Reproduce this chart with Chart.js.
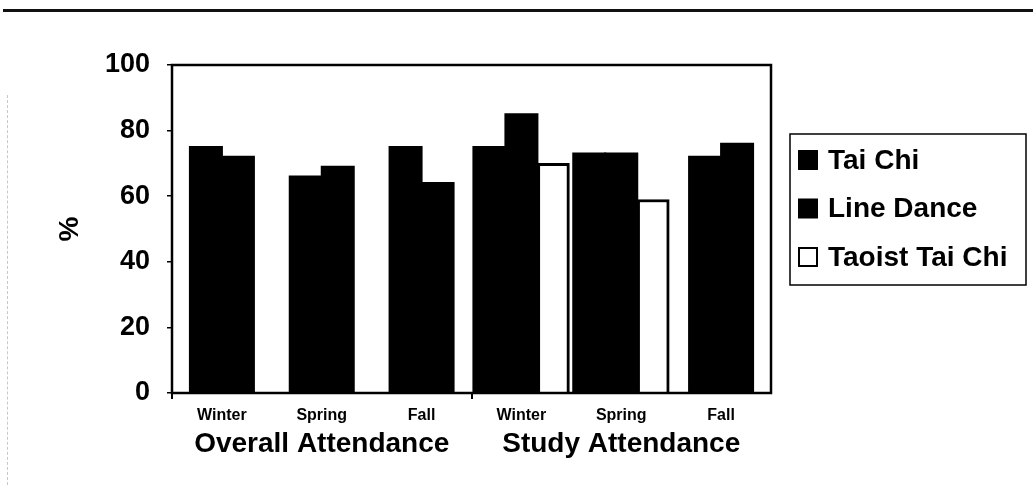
<!DOCTYPE html>
<html>
<head>
<meta charset="utf-8">
<title>Attendance by season</title>
<script src="https://cdn.jsdelivr.net/npm/chart.js@4.4.1/dist/chart.umd.min.js"></script>
<style>
  html, body { margin: 0; padding: 0; background: #fff; }
  #wrap { position: relative; width: 1033px; height: 485px; overflow: hidden; }
  #wrap canvas { position: absolute; left: 0; top: 0; }
  #rule { position: absolute; left: 3px; right: 0; top: 9px; height: 3px; background: #111; }
  #edge { position: absolute; left: 7px; top: 95px; bottom: 0; border-left: 1px dashed #c8c8c8; }
</style>
</head>
<body>
<div id="wrap">
  <canvas id="chart" width="1033" height="485"></canvas>
  <div id="rule"></div>
  <div id="edge"></div>
</div>
<script>
// Season categories and the two attendance groups beneath them
const seasons = ['Winter', 'Spring', 'Fall', 'Winter', 'Spring', 'Fall'];
const groups = ['Overall Attendance', 'Study Attendance'];

// Attendance (%) per programme
const taiChi       = [75, 66, 75, 75, 73, 72];
const lineDance    = [72, 69, 64, 85, 73, 76];
const taoistTaiChi = [null, null, null, 70, 59, null];

// Value axis
const yMin = 0;
const yMax = 100;
const yStep = 20;

const FONT = "'Liberation Sans', Arial, Helvetica, sans-serif";
Chart.defaults.font.family = FONT;
Chart.defaults.font.weight = 'bold';
Chart.defaults.color = '#000';

// Closed box around the plotting area
const framePlugin = {
  id: 'frame',
  afterDatasetsDraw(chart) {
    const { ctx, chartArea: a } = chart;
    ctx.save();
    ctx.strokeStyle = '#000';
    ctx.lineWidth = 2.5;
    ctx.strokeRect(a.left, a.top, a.right - a.left, a.bottom - a.top);
    ctx.restore();
  }
};

// Boxed legend to the right of the plot, built from the datasets
const boxLegend = {
  id: 'boxLegend',
  afterDraw(chart, args, o) {
    const { ctx, chartArea: a } = chart;
    const left = a.right + o.offsetX;
    const top = a.top + o.offsetY;
    ctx.save();
    ctx.lineWidth = 1.5;
    ctx.strokeStyle = '#000';
    ctx.strokeRect(left, top, o.width, o.height);
    ctx.font = `bold ${o.fontSize}px ${FONT}`;
    ctx.textBaseline = 'middle';
    ctx.textAlign = 'left';
    chart.data.datasets.forEach((ds, i) => {
      const cy = top + o.firstRow + i * o.rowGap;
      const bx = left + o.markerX;
      const by = cy - o.marker / 2;
      ctx.fillStyle = ds.backgroundColor;
      ctx.fillRect(bx, by, o.marker, o.marker);
      if (ds.borderWidth) {
        ctx.lineWidth = 2;
        ctx.strokeStyle = ds.borderColor;
        ctx.strokeRect(bx + 1, by + 1, o.marker - 2, o.marker - 2);
      }
      ctx.fillStyle = '#000';
      ctx.fillText(ds.label, bx + o.marker + o.textGap, cy + 1);
    });
    ctx.restore();
  }
};

new Chart(document.getElementById('chart'), {
  type: 'bar',
  data: {
    labels: seasons,
    datasets: [
      { label: 'Tai Chi', data: taiChi, backgroundColor: '#000', borderWidth: 0, inflateAmount: 1 },
      { label: 'Line Dance', data: lineDance, backgroundColor: '#000', borderWidth: 0, inflateAmount: 1 },
      { label: 'Taoist Tai Chi', data: taoistTaiChi, backgroundColor: '#fff', borderColor: '#000', borderWidth: 3 }
    ]
  },
  plugins: [framePlugin, boxLegend],
  options: {
    responsive: false,
    animation: false,
    devicePixelRatio: 1,
    layout: { padding: { left: 40, right: 262, top: 65, bottom: 18 } },
    datasets: { bar: { barThickness: 32, skipNull: true } },
    plugins: {
      legend: { display: false },
      tooltip: { enabled: false },
      boxLegend: {
        offsetX: 19, offsetY: 69, width: 236, height: 151,
        firstRow: 26, rowGap: 48.5, markerX: 8, marker: 20, textGap: 10, fontSize: 28
      }
    },
    scales: {
      x: {
        type: 'category',
        offset: true,
        weight: 0,
        grid: {
          display: true,
          drawOnChartArea: false,
          offset: true,
          tickLength: 6,
          lineWidth: 2,
          color: (c) => (c.index % 3 === 0 ? '#000' : 'rgba(0,0,0,0)')
        },
        border: { display: false },
        ticks: { font: { size: 16, weight: 'bold' }, padding: 7, maxRotation: 0, autoSkip: false, color: '#000' },
        afterFit: (s) => { s.height = 34; }
      },
      x2: {
        type: 'category',
        labels: groups,
        position: 'bottom',
        offset: true,
        weight: 1,
        grid: { display: false, drawTicks: false },
        border: { display: false },
        ticks: { font: { size: 28, weight: 'bold' }, padding: 0, maxRotation: 0, autoSkip: false, color: '#000' },
        afterFit: (s) => { s.height = 40; }
      },
      y: {
        min: yMin,
        max: yMax,
        ticks: { stepSize: yStep, font: { size: 27, weight: 'bold' }, padding: 17, color: '#000' },
        grid: { drawOnChartArea: false, tickLength: 5, color: '#000', lineWidth: 1.5 },
        border: { display: false },
        title: { display: true, text: '%', color: '#000', font: { size: 28, weight: 'bold' }, padding: { top: 13, bottom: 0 } },
        afterFit: (s) => { s.width = 132; }
      }
    }
  }
});
</script>
</body>
</html>
